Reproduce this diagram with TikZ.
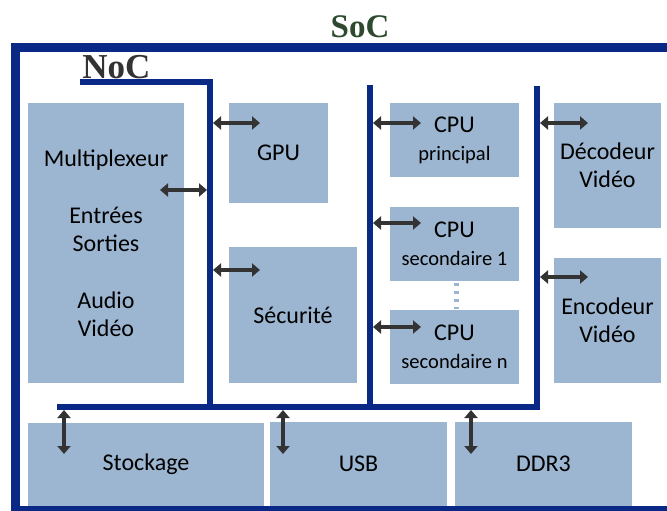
\documentclass[tikz,border=0pt]{standalone}
\usepackage{fontspec}
\setmainfont{Carlito}
\newfontfamily\titlefont{Liberation Serif}
\usetikzlibrary{arrows.meta}
\definecolor{busblue}{HTML}{0A2886}
\definecolor{boxblue}{HTML}{9CB6D1}
\definecolor{arrowgray}{HTML}{333333}
\definecolor{socgreen}{HTML}{2E4A2E}
\definecolor{nocgray}{HTML}{333333}
\tikzset{
  blk/.style={fill=boxblue, draw=none, inner sep=0pt, align=center, text=black,
              font=\fontsize{24}{28}\selectfont},
  bus/.style={draw=busblue, line width=6pt},
  frame/.style={draw=busblue, line width=9pt},
  dbl/.style={draw=arrowgray, line width=4pt,
              {Triangle[length=8pt,width=13pt]}-{Triangle[length=8pt,width=13pt]}}
}
\newcommand{\sm}[1]{{\fontsize{20.5}{28}\selectfont #1}}
\begin{document}
\begin{tikzpicture}[x=1pt,y=-1pt]
\useasboundingbox (0,0) rectangle (667,511);
\clip (0,0) rectangle (667,511);
% SoC frame
\draw[frame] (680,48) -- (15,48) -- (15,510) -- (680,510);
\node[anchor=base, text=socgreen, font=\titlefont\bfseries\fontsize{33}{36}\selectfont] (soc) at (360,38) {SoC};
\node[anchor=base, text=nocgray, font=\titlefont\bfseries\fontsize{35}{38}\selectfont] (noc) at (116.5,78) {NoC};
% blocks
\node[blk, minimum width=156pt, minimum height=280pt] (mux) at (106,243)
  {Multiplexeur\\[29pt]Entrées\\Sorties\\[29pt]Audio\\Vidéo};
\node[blk, minimum width=99pt, minimum height=100pt] (gpu) at (278.5,153) {GPU};
\node[blk, minimum width=128pt, minimum height=136pt] (secu) at (293,315) {Sécurité};
\node[blk, minimum width=129pt, minimum height=74pt] (cpu0) at (454.5,140) {CPU\\\sm{principal}};
\node[blk, minimum width=129pt, minimum height=74pt] (cpu1) at (454.5,244) {CPU\\\sm{secondaire 1}};
\node[blk, minimum width=129pt, minimum height=74pt] (cpun) at (454.5,347) {CPU\\\sm{secondaire n}};
\node[blk, minimum width=107pt, minimum height=125pt] (dec) at (607.5,165.5) {Décodeur\\Vidéo};
\node[blk, minimum width=107pt, minimum height=125pt] (enc) at (607.5,320.5) {Encodeur\\Vidéo};
\node[blk, minimum width=236pt, minimum height=83pt] (sto) at (146,464.5) {Stockage};
\node[blk, minimum width=177pt, minimum height=84pt] (usb) at (358.5,464) {USB};
\node[blk, minimum width=177pt, minimum height=84pt] (ddr) at (543.5,464) {DDR3};
% dots between secondary CPUs
\path (cpu1.south) ++(1.5,2) coordinate (d1) (cpun.north) ++(1.5,-1) coordinate (d2);
\draw[draw=boxblue, line width=5pt, dash pattern=on 3pt off 5pt] (d1) -- (d2);
% NoC buses
\draw[bus] (80,82) -- (210,82) -- (210,407);
\draw[bus] (370,85) -- (370,407);
\draw[bus] (537,86) -- (537,407);
\draw[bus] (57,407) -- (540,407);
% arrow coordinates
\coordinate (m1) at (160,190); \coordinate (m2) at (207,190);
\coordinate (g1) at (213,123); \coordinate (g2) at (260,123);
\coordinate (s1) at (213,270); \coordinate (s2) at (260,270);
\coordinate (c01) at (373,123); \coordinate (c02) at (421,123);
\coordinate (c11) at (373,223); \coordinate (c12) at (421,223);
\coordinate (cn1) at (373,327); \coordinate (cn2) at (421,327);
\coordinate (e01) at (540,123); \coordinate (e02) at (588,123);
\coordinate (e11) at (540,277); \coordinate (e12) at (588,277);
\coordinate (b11) at (64,410); \coordinate (b12) at (64,454);
\coordinate (b21) at (283,410); \coordinate (b22) at (283,454);
\coordinate (b31) at (471,410); \coordinate (b32) at (471,454);
\foreach \a/\b in {m1/m2,g1/g2,s1/s2,c01/c02,c11/c12,cn1/cn2,e01/e02,e11/e12,b11/b12,b21/b22,b31/b32}
  \draw[dbl] (\a) -- (\b);
\end{tikzpicture}
\end{document}
